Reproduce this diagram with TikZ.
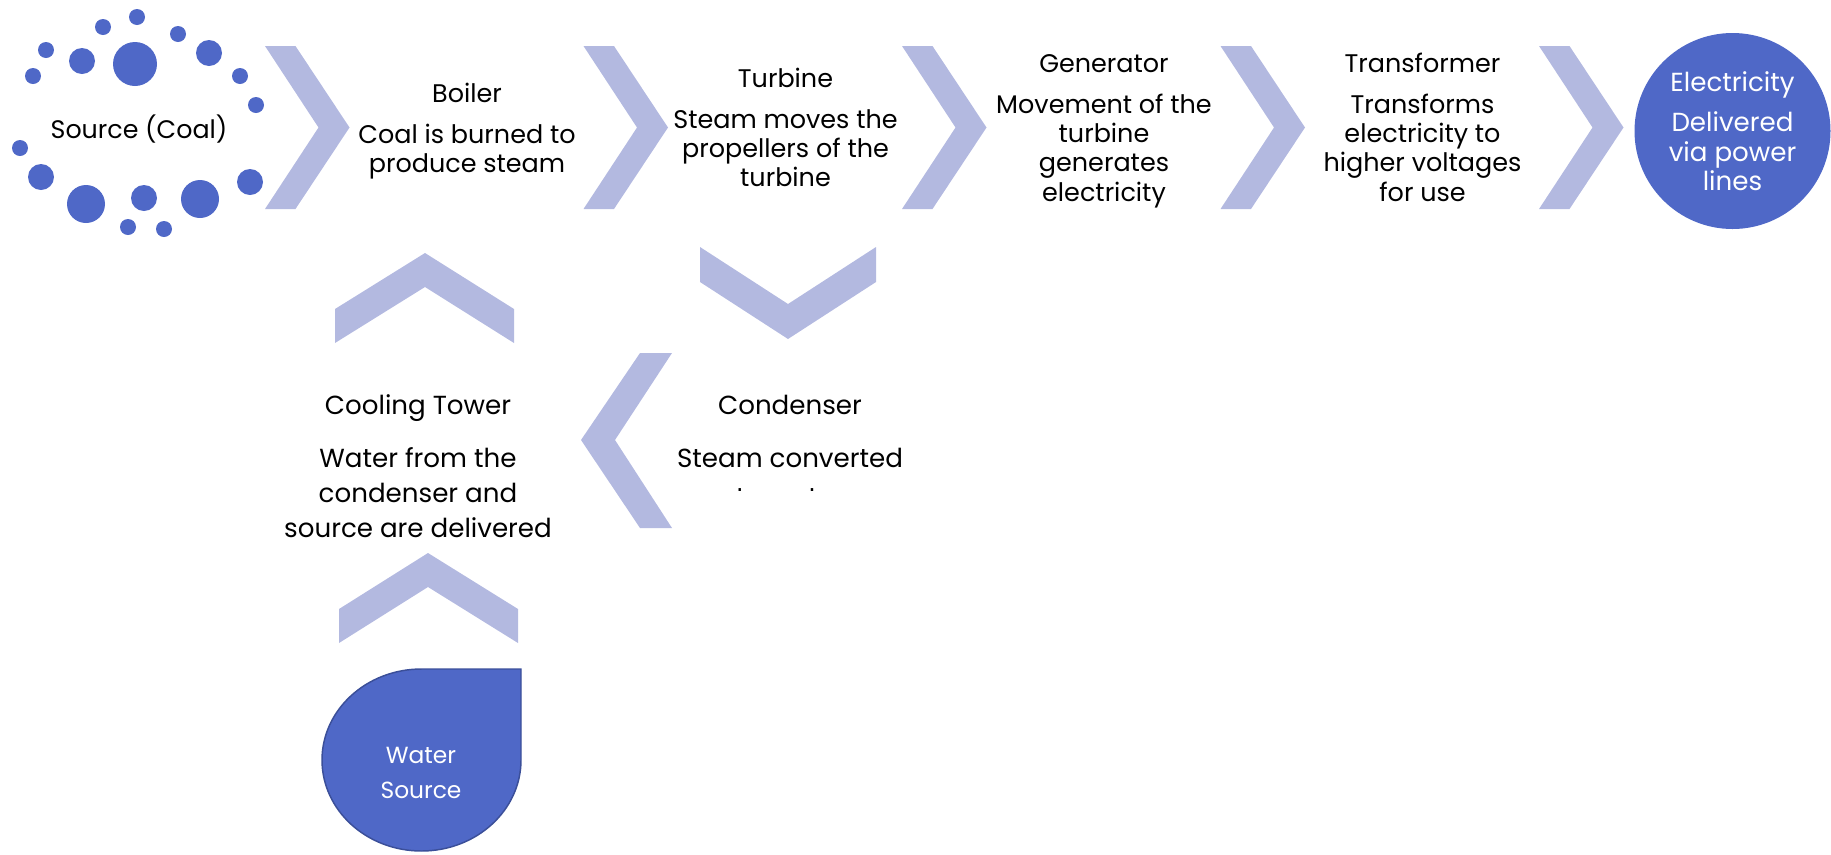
\documentclass[tikz,border=0pt]{standalone}
\usepackage{fontspec}
\setmainfont{Poppins}
\definecolor{chev}{HTML}{B3B9E0}
\definecolor{blu}{HTML}{4F68C7}
\definecolor{bluedge}{HTML}{3B4F99}
\newcommand\stk[2]{\vtop{\baselineskip=#1\lineskiplimit=-100pt\lineskip=0pt\halign{\hfil##\hfil\cr#2\crcr}}}
\tikzset{
  lbl/.style={inner sep=0pt, anchor=base, text=black},
  wlbl/.style={lbl, text=white},
  fsmall/.style={font=\fontsize{19.1}{22}\selectfont},
  fbig/.style={font=\fontsize{19.6}{26}\selectfont},
  chevR/.pic={\fill[chev] (0,0) -- (30.5,0) -- (84.5,81.5) -- (30.5,163) -- (0,163) -- (53.5,81.5) -- cycle;},
  dot/.style={fill=blu}
}
\begin{document}
\begin{tikzpicture}[x=0.75pt,y=-0.75pt]
\path[use as bounding box] (0,0) rectangle (1831,854);

% source dots
\foreach \x/\y/\r in {137/17/8, 103/27/8, 178/34/8, 46/50/8, 82/61/13, 135/64/22, 209/53/13,
  33/76/8, 240/76/8, 256/105/8, 20/148/8, 41/177/13, 86/204/19, 144/198/13, 200/199/19,
  250/182/13, 128/227/8, 164/229/8}
  \fill[dot] (\x,\y) circle[radius=\r];
\node[lbl, font=\fontsize{19}{24}\selectfont] (coal) at (139,138) {Source (Coal)};

% top-row chevrons
\foreach \cx in {265,583.5,902,1220.5,1539}
  \pic at (\cx,46) {chevR};

% top-row labels
\node[lbl, fsmall] (boiler) at (467,102) {\stk{22.1pt}{Boiler\cr\noalign{\vskip 8.65pt}Coal is burned to\cr produce steam}};
\node[lbl, fsmall] (turbine) at (785.5,87) {\stk{22.1pt}{Turbine\cr\noalign{\vskip 8.65pt}Steam moves the\cr propellers of the\cr turbine}};
\node[lbl, fsmall] (generator) at (1104,72) {\stk{22.1pt}{Generator\cr\noalign{\vskip 8.65pt}Movement of the\cr turbine\cr generates\cr electricity}};
\node[lbl, fsmall] (transformer) at (1422.5,72) {\stk{22.1pt}{Transformer\cr\noalign{\vskip 8.65pt}Transforms\cr electricity to\cr higher voltages\cr for use}};

% electricity circle
\node[circle, fill=blu, draw=none, minimum size=147pt, inner sep=0pt] (elecdisk) at (1732.5,131) {};
\node[wlbl, font=\fontsize{19.6}{22}\selectfont] (electricity) at (1732.5,91.7) {\stk{22.1pt}{Electricity\cr\noalign{\vskip 7.9pt}Delivered\cr via power\cr lines}};

% vertical / left chevrons
\fill[chev] (700,247) -- (788,304) -- (876,247) -- (876,282) -- (788,339) -- (700,282) -- cycle;
\fill[chev] (640,353) -- (581,440) -- (640,528) -- (672,528) -- (615,440) -- (672,353) -- cycle;
\fill[chev] (335,309) -- (425,253) -- (514,309) -- (514,343) -- (425,287) -- (335,343) -- cycle;
\fill[chev] (339,609) -- (428,553) -- (518,609) -- (518,643) -- (428,587) -- (339,643) -- cycle;

% condenser and cooling tower labels
\begin{scope}
  \clip (560,340) rectangle (960,490);
  \node[lbl, fbig] (condenser) at (790,414) {\stk{26.25pt}{Condenser\cr\noalign{\vskip 13.5pt}Steam converted\cr\noalign{\vskip 3pt}to water}};
\end{scope}
\node[lbl, fbig] (cooling) at (418,414) {\stk{26.25pt}{Cooling Tower\cr\noalign{\vskip 13.5pt}Water from the\cr condenser and\cr source are delivered}};

% water source drop
\path[fill=blu, draw=bluedge, line width=1.1pt] (421.5,669) -- (521,669) -- (521,760)
  .. controls (521,810.2) and (476.5,851) .. (421.5,851)
  .. controls (366.5,851) and (322,810.2) .. (322,760)
  .. controls (322,709.8) and (366.5,669) .. (421.5,669) -- cycle;
\node[wlbl, font=\fontsize{17.5}{24}\selectfont] (water) at (421,763) {\stk{26.25pt}{Water\cr Source}};
\end{tikzpicture}
\end{document}
